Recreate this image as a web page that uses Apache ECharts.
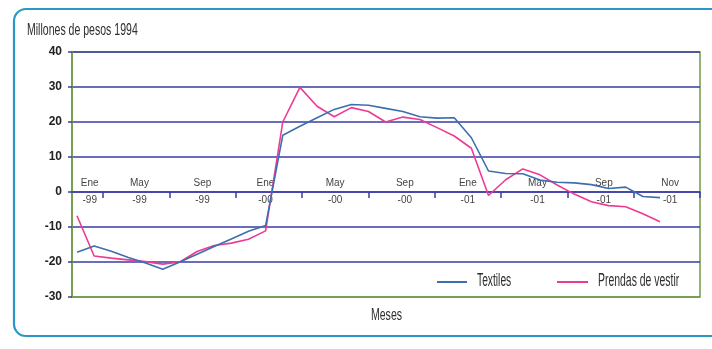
<!DOCTYPE html>
<html>
<head>
<meta charset="utf-8">
<script src="https://cdn.jsdelivr.net/npm/echarts@6/dist/echarts.min.js"></script>
<style>
  html, body { margin: 0; padding: 0; background: #ffffff; }
  #chart { width: 712px; height: 349px; }
</style>
</head>
<body>
<div id="chart"></div>
<script>
// Monthly series, Ene-99 .. Nov-01 (millones de pesos de 1994)
const months = [
  'Ene-99','Feb-99','Mar-99','Abr-99','May-99','Jun-99','Jul-99','Ago-99','Sep-99','Oct-99','Nov-99','Dic-99',
  'Ene-00','Feb-00','Mar-00','Abr-00','May-00','Jun-00','Jul-00','Ago-00','Sep-00','Oct-00','Nov-00','Dic-00',
  'Ene-01','Feb-01','Mar-01','Abr-01','May-01','Jun-01','Jul-01','Ago-01','Sep-01','Oct-01','Nov-01'
];
const textiles = [
  -17.2, -15.4, -16.9, -18.7, -20.3, -22.1, -20.0, -17.8, -15.6, -13.4, -11.2, -9.6,
  16.2, 18.8, 21.2, 23.6, 25.0, 24.8, 23.9, 23.0, 21.5, 21.1, 21.2, 15.5,
  6.0, 5.3, 5.2, 3.4, 2.8, 2.6, 2.1, 1.0, 1.4, -1.3, -1.6
];
const prendas = [
  -6.8, -18.3, -18.9, -19.4, -19.9, -20.6, -20.0, -17.0, -15.3, -14.6, -13.5, -11.1,
  20.0, 29.9, 24.5, 21.5, 24.1, 23.0, 20.0, 21.4, 20.7, 18.4, 16.0, 12.5,
  -1.0, 3.5, 6.6, 4.9, 2.0, -0.6, -2.8, -3.9, -4.2, -6.2, -8.5
];
const seriesNames = ['Textiles', 'Prendas de vestir'];
const seriesColors = ['#3b6fae', '#ef3a94'];
const tickLabels = ['Ene\n-99','May\n-99','Sep\n-99','Ene\n-00','May\n-00','Sep\n-00','Ene\n-01','May\n-01','Sep\n-01','Nov\n-01'];
// positions (in label-slot units) of the period labels and of the tick marks between them
const labelSlots = [0.8, 1.55, 2.5, 3.45, 4.5, 5.55, 6.5, 7.55, 8.55, 9.55];
const tickSlots = [1, 2, 3, 4, 5, 6, 7, 8, 9, 10];
const yTicks = { min: -30, max: 40, step: 10 };

const SANS = "'Liberation Sans', Arial, sans-serif";
const GRID_BLUE = '#3b3ba6';
const FRAME_GREEN = '#6f9a45';
const GRID = { left: 72, right: 12, top: 52, bottom: 52 };
const plotHeight = 349 - GRID.top - GRID.bottom;
// the period axis sits on the zero line: lift it from the plot bottom by the height of the negative range
const zeroLift = plotHeight * (0 - yTicks.min) / (yTicks.max - yTicks.min);

// label text for a slot position on the period axis
function periodLabel(v) {
  let best = 0;
  for (let k = 1; k < labelSlots.length; k++) {
    if (Math.abs(labelSlots[k] - v) < Math.abs(labelSlots[best] - v)) best = k;
  }
  return tickLabels[best];
}

// horizontally compressed text, for the condensed typeface of titles and key
function narrowText(x, y, text, size, scale, align) {
  return {
    type: 'text', x: x, y: y, scaleX: scale, silent: true,
    style: { text: text, align: align, verticalAlign: 'middle', font: size + 'px ' + SANS, fill: '#2e2e2e' }
  };
}

const chart = echarts.init(document.getElementById('chart'), null, { renderer: 'canvas' });

chart.setOption({
  backgroundColor: '#ffffff',
  animation: false,
  graphic: [
    {
      type: 'rect', silent: true,
      shape: { x: 14, y: 9, width: 730, height: 327, r: 12 },
      style: { fill: 'none', stroke: '#2a97c8', lineWidth: 2.2 },
      z: -10
    },
    narrowText(27, 30, 'Millones de pesos 1994', 17, 0.62, 'left'),
    narrowText(386.5, 315.5, 'Meses', 16, 0.66, 'center'),
    // key
    { type: 'line', silent: true, shape: { x1: 437, y1: 282, x2: 467, y2: 282 }, style: { stroke: seriesColors[0], lineWidth: 2 } },
    narrowText(477, 281.5, seriesNames[0], 18, 0.57, 'left'),
    { type: 'line', silent: true, shape: { x1: 557, y1: 282, x2: 588, y2: 282 }, style: { stroke: seriesColors[1], lineWidth: 2 } },
    narrowText(598, 281.5, seriesNames[1], 18, 0.58, 'left')
  ],
  grid: Object.assign({
    show: true, borderColor: FRAME_GREEN, borderWidth: 1.5, backgroundColor: 'transparent'
  }, GRID),
  xAxis: [
    {
      type: 'value',
      min: -0.2916, max: 36.333,
      position: 'bottom',
      show: false
    },
    {
      type: 'value',
      min: 0.533, max: 10,
      position: 'bottom',
      offset: -zeroLift,
      axisLine: { show: true, onZero: false, lineStyle: { color: GRID_BLUE, width: 1.5 } },
      axisTick: { show: true, customValues: tickSlots, length: 6, lineStyle: { color: GRID_BLUE, width: 1.5 } },
      axisLabel: {
        show: true,
        customValues: labelSlots,
        formatter: periodLabel,
        showMinLabel: true,
        showMaxLabel: true,
        hideOverlap: false,
        margin: 0,
        verticalAlign: 'middle',
        lineHeight: 17,
        fontFamily: SANS, fontSize: 10, color: '#444444'
      },
      splitLine: { show: false }
    }
  ],
  yAxis: {
    type: 'value',
    min: yTicks.min, max: yTicks.max, interval: yTicks.step,
    axisLine: { show: true, onZero: false, lineStyle: { color: FRAME_GREEN, width: 1.5 } },
    axisTick: { show: true, length: 4, lineStyle: { color: GRID_BLUE, width: 1.5 } },
    axisLabel: {
      margin: 10,
      fontFamily: SANS, fontSize: 12, fontWeight: 'bold', color: '#222222'
    },
    splitLine: {
      show: true,
      lineStyle: {
        color: [FRAME_GREEN, GRID_BLUE, GRID_BLUE, GRID_BLUE, GRID_BLUE, GRID_BLUE, GRID_BLUE, GRID_BLUE],
        width: 1.5
      }
    }
  },
  series: [
    {
      name: seriesNames[0],
      type: 'line',
      xAxisIndex: 0,
      symbol: 'none',
      data: textiles.map((v, i) => ({ name: months[i], value: [i, v] })),
      lineStyle: { color: seriesColors[0], width: 1.6 },
      itemStyle: { color: seriesColors[0] },
      z: 3
    },
    {
      name: seriesNames[1],
      type: 'line',
      xAxisIndex: 0,
      symbol: 'none',
      data: prendas.map((v, i) => ({ name: months[i], value: [i, v] })),
      lineStyle: { color: seriesColors[1], width: 1.6 },
      itemStyle: { color: seriesColors[1] },
      z: 2
    }
  ]
});
</script>
</body>
</html>
